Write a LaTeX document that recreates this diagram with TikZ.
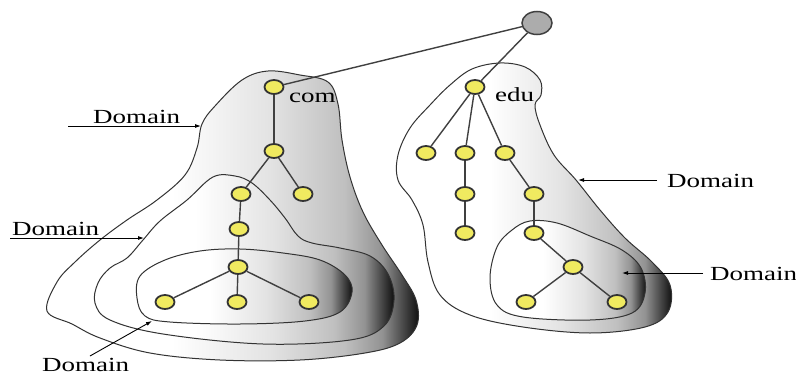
\documentclass[tikz,border=0pt]{standalone}
\usepackage{fontspec}
\setmainfont{Liberation Serif}
\usepackage{graphicx}
\usepackage{xcolor}
\usepackage{tikz}
\usetikzlibrary{arrows.meta,shapes.geometric}

\definecolor{nodeyellow}{RGB}{240,234,96}

% white on the left, going dark towards the right edge
\pgfdeclarehorizontalshading{domainshade}{100bp}{color(0bp)=(white); color(25bp)=(white);
  color(42bp)=(white); color(55bp)=(gray!22); color(65bp)=(gray!50); color(70bp)=(gray!85);
  color(75bp)=(black!95); color(100bp)=(black!95)}

% shaded zone with its outline
\newcommand{\domainpatch}[1]{%
  \shade[shading=domainshade] plot[smooth cycle, tension=.6] coordinates {#1};
  \draw[outline] plot[smooth cycle, tension=.6] coordinates {#1};}

\newcommand{\wide}[1]{\scalebox{1.35}[1]{#1}}

\begin{document}
\begin{tikzpicture}[
  x=1pt, y=-1pt,
  outline/.style={draw=black!80, line width=1pt},
  dot/.style={ellipse, draw=black!80, line width=1.8pt, fill=nodeyellow, minimum width=19pt, minimum height=14pt, inner sep=0pt},
  rootdot/.style={ellipse, draw=black!75, line width=1.5pt, fill=gray!65, minimum width=30pt, minimum height=23pt, inner sep=0pt},
  link/.style={draw=black!75, line width=1.4pt},
  arrow/.style={-{Latex[length=6pt,width=4pt]}, line width=0.9pt},
  lbl/.style={font=\fontsize{20}{20}\selectfont, inner sep=0pt, anchor=base west}
]
\useasboundingbox (0,0) rectangle (796,375);

% com side
\domainpatch{(268,71) (300,75) (328,82) (338,104) (342,140) (350,177) (363,212) (382,245)
  (402,275) (416,300) (417,325) (400,343) (365,353) (300,360) (220,360) (150,353) (100,338)
  (72,324) (47,311) (57,282) (75,262) (100,240) (127,220) (157,200) (185,175) (197,148)
  (202,124) (215,106) (242,80)}
\domainpatch{(213,177) (235,176) (252,183) (270,200) (285,218) (298,236) (312,243) (340,248)
  (370,256) (388,274) (394,300) (384,326) (350,340) (263,344) (163,334) (110,320) (95,303)
  (98,283) (110,268) (127,258) (143,240) (160,221) (187,200)}
\domainpatch{(140,276) (165,260) (200,251) (240,249) (283,253) (320,260) (345,275) (352,292)
  (340,312) (305,321) (240,324) (170,322) (145,316) (137,298)}

% edu side
\domainpatch{(500,63) (525,67) (540,80) (541,95) (535,105) (540,125) (554,155) (576,180)
  (600,210) (625,238) (652,262) (670,285) (668,312) (645,327) (590,333) (523,327) (470,315)
  (440,295) (428,262) (423,225) (412,200) (398,180) (398,155) (410,128) (430,105) (450,85)
  (472,69)}
\domainpatch{(497,247) (512,230) (530,221) (557,223) (590,236) (622,250) (641,268) (645,293)
  (632,313) (590,320) (523,317) (497,305) (490,278)}

% name servers
\node[rootdot] (root) at (537,23) {};
\node[dot] (com) at (274,87) {};
\node[dot] (c1) at (274,151) {};
\node[dot] (c2) at (241,194) {};
\node[dot] (c3) at (303,194) {};
\node[dot] (c4) at (239,229) {};
\node[dot] (c5) at (238,267) {};
\node[dot] (c6) at (165,302) {};
\node[dot] (c7) at (237,302) {};
\node[dot] (c8) at (309,302) {};

\node[dot] (edu) at (475,87) {};
\node[dot] (e1) at (426,153) {};
\node[dot] (e2) at (465,153) {};
\node[dot] (e3) at (505,153) {};
\node[dot] (e4) at (465,194) {};
\node[dot] (e5) at (534,194) {};
\node[dot] (e6) at (465,233) {};
\node[dot] (e7) at (534,233) {};
\node[dot] (e8) at (573,267) {};
\node[dot] (e9) at (526,302) {};
\node[dot] (e10) at (617,302) {};

\draw[link] (root) -- (com);
\draw[link] (root) -- (edu);
\draw[link] (com) -- (c1);
\draw[link] (c1) -- (c2);
\draw[link] (c1) -- (c3);
\draw[link] (c2) -- (c4);
\draw[link] (c4) -- (c5);
\draw[link] (c5) -- (c6);
\draw[link] (c5) -- (c7);
\draw[link] (c5) -- (c8);
\draw[link] (edu) -- (e1);
\draw[link] (edu) -- (e2);
\draw[link] (edu) -- (e3);
\draw[link] (e2) -- (e4);
\draw[link] (e4) -- (e6);
\draw[link] (e3) -- (e5);
\draw[link] (e5) -- (e7);
\draw[link] (e7) -- (e8);
\draw[link] (e8) -- (e9);
\draw[link] (e8) -- (e10);

\node[lbl] (comname) at (289,102) {\wide{com}};
\node[lbl] (eduname) at (495,101) {\wide{edu}};

% domain pointers
\node[lbl] (dom1) at (93,123) {\wide{Domain}};
\node[lbl] (dom2) at (12,235) {\wide{Domain}};
\node[lbl] (dom3) at (42,371) {\wide{Domain}};
\node[lbl] (dom4) at (667,187) {\wide{Domain}};
\node[lbl] (dom5) at (710,280) {\wide{Domain}};

\coordinate (a1) at (68,126);   \coordinate (b1) at (201,126);
\coordinate (a2) at (10,238);   \coordinate (b2) at (144,238);
\coordinate (a3) at (90,356);   \coordinate (b3) at (152,321);
\coordinate (a4) at (657,180);  \coordinate (b4) at (578,180);
\coordinate (a5) at (703,273);  \coordinate (b5) at (622,273);
\draw[arrow] (a1) -- (b1);
\draw[arrow] (a2) -- (b2);
\draw[arrow] (a3) -- (b3);
\draw[arrow] (a4) -- (b4);
\draw[arrow] (a5) -- (b5);
\end{tikzpicture}
\end{document}
